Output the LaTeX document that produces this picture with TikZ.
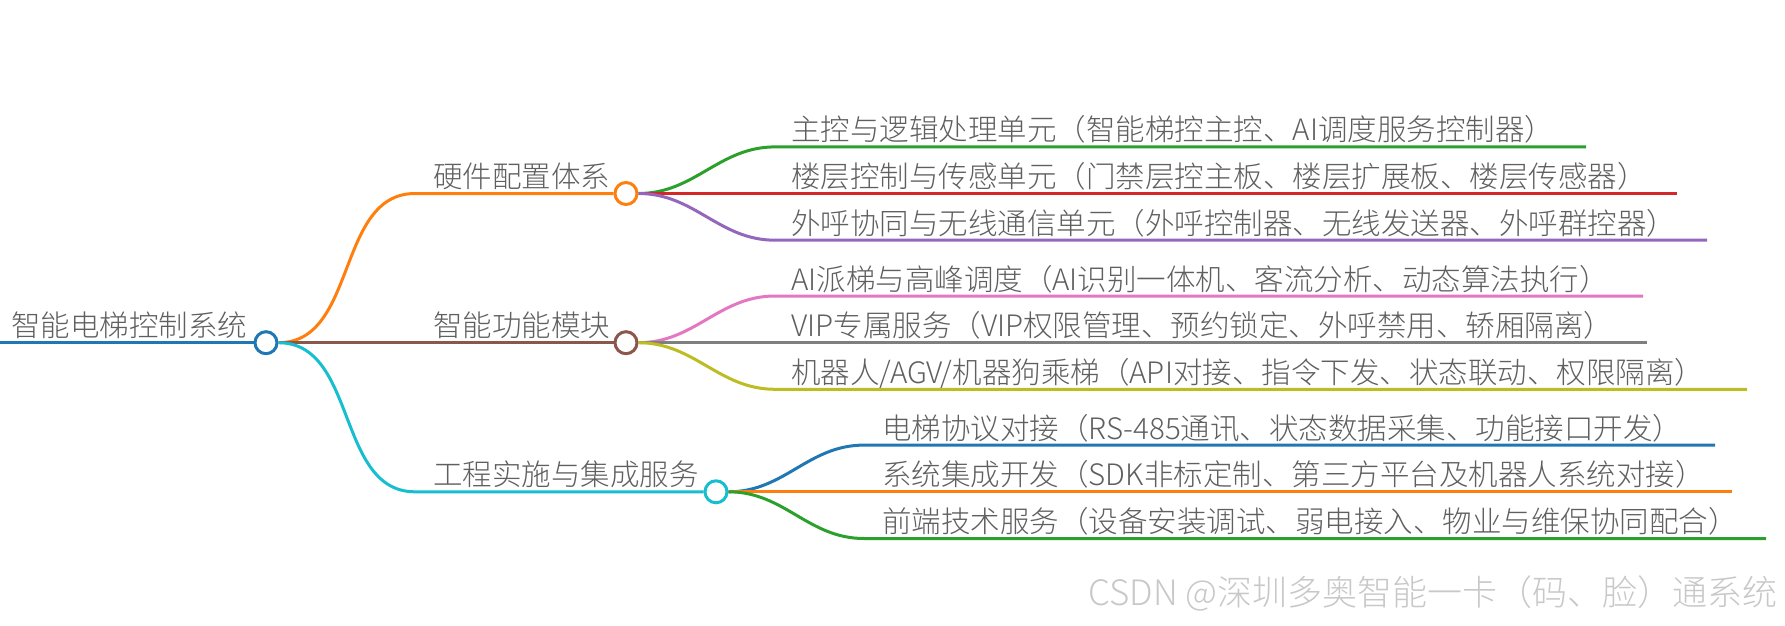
\documentclass[tikz,border=0pt]{standalone}
\usepackage{fontspec}
\setmainfont{Noto Sans CJK SC Light}
\usepackage{tikz}
\usepackage{xcolor}
\definecolor{RootBlue}{HTML}{1F77B4}
\definecolor{HwOrange}{HTML}{FF7F0E}
\definecolor{FnBrown}{HTML}{8C564B}
\definecolor{EngCyan}{HTML}{17BECF}
\definecolor{MainGreen}{HTML}{2CA02C}
\definecolor{FloorRed}{HTML}{D62728}
\definecolor{CallPurple}{HTML}{9467BD}
\definecolor{AiPink}{HTML}{E377C2}
\definecolor{VipGray}{HTML}{7F7F7F}
\definecolor{RobotOlive}{HTML}{BCBD22}
\definecolor{TextGray}{HTML}{5F5F5F}
\definecolor{MarkGray}{HTML}{C8C8C8}
\tikzset{%
  topic_dot/.style={%
    circle,%
    minimum size=22,%
    inner sep=0,%
    line width=3,%
    fill=white,%
  },
  branch_path/.style={%
    line width=3,%
    line join=round,%
  },
  topic_text/.style={%
    anchor=base west,%
    inner sep=0,%
    text=TextGray,%
    font={\fontsize{29.5}{30}\selectfont},%
  },
  watermark/.style={%
    anchor=base east,%
    inner sep=0,%
    text=MarkGray,%
    font={\fontsize{35}{36}\selectfont},%
  },
}

\begin{document}
\begin{tikzpicture}[x=1pt, y=-1pt]
  \useasboundingbox (0,0) rectangle (1785,626);

  % root
  \coordinate (root_in) at (0,342.7);
  \node [topic_dot, draw=RootBlue] (root) at (266,342.7) {};
  \node [topic_text] (root_label) at (11,336.7) {智能电梯控制系统};
  \draw [branch_path, RootBlue] (root_in) -- (root.west);

  % first level
  \node [topic_dot, draw=HwOrange] (hw) at (626,193.5) {};
  \node [topic_dot, draw=FnBrown] (fn) at (626,342.7) {};
  \node [topic_dot, draw=EngCyan] (eng) at (716,491.8) {};
  \coordinate (hw_bend) at (415,193.5);
  \coordinate (fn_bend) at (415,342.7);
  \coordinate (eng_bend) at (415,491.8);
  \node [topic_text] (hw_label) at (433,187.5) {硬件配置体系};
  \node [topic_text] (fn_label) at (433,336.7) {智能功能模块};
  \node [topic_text] (eng_label) at (433,485.8) {工程实施与集成服务};
  \draw [branch_path, HwOrange]
    (root.east) to [out=0, in=180] (hw_bend) -- (hw.west);
  \draw [branch_path, FnBrown]
    (root.east) -- (fn_bend) -- (fn.west);
  \draw [branch_path, EngCyan]
    (root.east) to [out=0, in=180] (eng_bend) -- (eng.west);

  % hardware
  \coordinate (hw_main_bend) at (775,146.9);
  \coordinate (hw_main_end) at (1586,146.9);
  \coordinate (hw_floor_bend) at (775,193.5);
  \coordinate (hw_floor_end) at (1677,193.5);
  \coordinate (hw_call_bend) at (775,240.2);
  \coordinate (hw_call_end) at (1707,240.2);
  \node [topic_text] (hw_main) at (791,140.9)
    {主控与逻辑处理单元（智能梯控主控、AI调度服务控制器）};
  \node [topic_text] (hw_floor) at (791,187.5)
    {楼层控制与传感单元（门禁层控主板、楼层扩展板、楼层传感器）};
  \node [topic_text] (hw_call) at (791,234.2)
    {外呼协同与无线通信单元（外呼控制器、无线发送器、外呼群控器）};
  \draw [branch_path, MainGreen]
    (hw.east) to [out=0, in=180] (hw_main_bend) -- (hw_main_end);
  \draw [branch_path, FloorRed]
    (hw.east) -- (hw_floor_bend) -- (hw_floor_end);
  \draw [branch_path, CallPurple]
    (hw.east) to [out=0, in=180] (hw_call_bend) -- (hw_call_end);

  % functions
  \coordinate (fn_ai_bend) at (775,296);
  \coordinate (fn_ai_end) at (1643,296);
  \coordinate (fn_vip_bend) at (775,342.7);
  \coordinate (fn_vip_end) at (1647,342.7);
  \coordinate (fn_robot_bend) at (775,389.3);
  \coordinate (fn_robot_end) at (1747,389.3);
  \node [topic_text] (fn_ai) at (791,290)
    {AI派梯与高峰调度（AI识别一体机、客流分析、动态算法执行）};
  \node [topic_text] (fn_vip) at (791,336.7)
    {VIP专属服务（VIP权限管理、预约锁定、外呼禁用、轿厢隔离）};
  \node [topic_text] (fn_robot) at (791,383.3)
    {机器人/AGV/机器狗乘梯（API对接、指令下发、状态联动、权限隔离）};
  \draw [branch_path, AiPink]
    (fn.east) to [out=0, in=180] (fn_ai_bend) -- (fn_ai_end);
  \draw [branch_path, VipGray]
    (fn.east) -- (fn_vip_bend) -- (fn_vip_end);
  \draw [branch_path, RobotOlive]
    (fn.east) to [out=0, in=180] (fn_robot_bend) -- (fn_robot_end);

  % engineering
  \coordinate (eng_proto_bend) at (864,445.1);
  \coordinate (eng_proto_end) at (1715,445.1);
  \coordinate (eng_integ_bend) at (864,491.8);
  \coordinate (eng_integ_end) at (1732,491.8);
  \coordinate (eng_field_bend) at (864,538.5);
  \coordinate (eng_field_end) at (1766,538.5);
  \node [topic_text] (eng_proto) at (882,439.1)
    {电梯协议对接（RS-485通讯、状态数据采集、功能接口开发）};
  \node [topic_text] (eng_integ) at (882,485.8)
    {系统集成开发（SDK非标定制、第三方平台及机器人系统对接）};
  \node [topic_text] (eng_field) at (882,532.5)
    {前端技术服务（设备安装调试、弱电接入、物业与维保协同配合）};
  \draw [branch_path, RootBlue]
    (eng.east) to [out=0, in=180] (eng_proto_bend) -- (eng_proto_end);
  \draw [branch_path, HwOrange]
    (eng.east) -- (eng_integ_bend) -- (eng_integ_end);
  \draw [branch_path, MainGreen]
    (eng.east) to [out=0, in=180] (eng_field_bend) -- (eng_field_end);

  % watermark
  \node [watermark] (mark) at (1778,605)
    {CSDN @深圳多奥智能一卡（码、脸）通系统};
\end{tikzpicture}
\end{document}
